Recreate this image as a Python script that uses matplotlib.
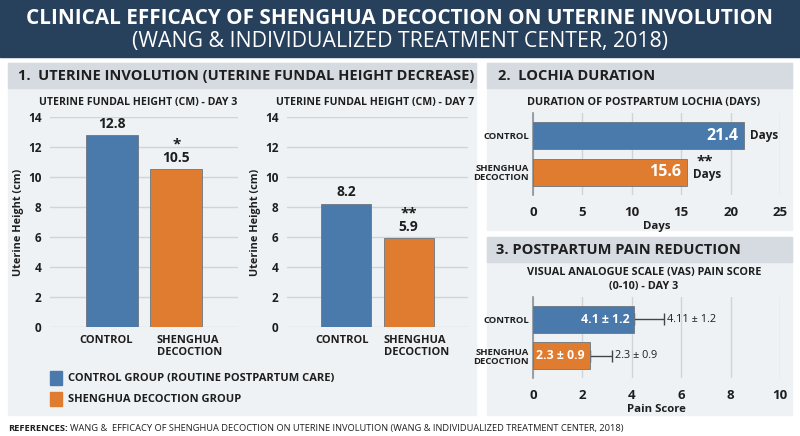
import matplotlib
matplotlib.use("Agg")
import matplotlib.pyplot as plt
from matplotlib.patches import Rectangle

# Data
groups = ['CONTROL', 'SHENGHUA\nDECOCTION']
day3_height = [12.8, 10.5]
day7_height = [8.2, 5.9]
day3_marks = ['', '*']
day7_marks = ['', '**']
lochia_days = [21.4, 15.6]
lochia_marks = ['', '**']
pain_score = [4.1, 2.3]
pain_sd = [1.2, 0.9]
pain_side_labels = ['4.11 ± 1.2', '2.3 ± 0.9']
legend_labels = ['CONTROL GROUP (ROUTINE POSTPARTUM CARE)', 'SHENGHUA DECOCTION GROUP']

BLUE = '#4a7aab'
ORANGE = '#e07c30'
NAVY = '#27405c'
PANEL = '#eff2f5'
HEADER = '#d5dbe0'
GRID = '#d0d4d9'
TXT = '#1e1e1e'
colors = [BLUE, ORANGE]

plt.rcParams['font.family'] = ['Open Sans', 'DejaVu Sans']

W, H = 800, 436
fig = plt.figure(figsize=(W / 100, H / 100), dpi=100)
fig.patch.set_facecolor('white')


def box(x0, y0, x1, y1, color):
    #rectangle in pixel coords (top-left origin), kept behind the axes
    fig.patches.append(Rectangle((x0 / W, 1 - y1 / H), (x1 - x0) / W, (y1 - y0) / H,
                                 transform=fig.transFigure, color=color, zorder=-5))


def ftext(x, y, s, **kw):
    fig.text(x / W, 1 - y / H, s, **kw)


def px_axes(x0, y0, x1, y1):
    ax = fig.add_axes([x0 / W, 1 - y1 / H, (x1 - x0) / W, (y1 - y0) / H])
    ax.set_facecolor('none')
    return ax


# Title banner
box(0, 0, W, 57, NAVY)
ftext(400, 18, 'CLINICAL EFFICACY OF SHENGHUA DECOCTION ON UTERINE INVOLUTION',
      ha='center', va='center', color='white', fontsize=14.9, fontweight='bold')
ftext(400, 41, '(WANG & INDIVIDUALIZED TREATMENT CENTER, 2018)',
      ha='center', va='center', color='white', fontsize=15.3)

# Panels
box(8, 63, 476, 415, PANEL)
box(8, 63, 476, 88, HEADER)
ftext(18, 76, '1.  UTERINE INVOLUTION (UTERINE FUNDAL HEIGHT DECREASE)',
      ha='left', va='center', color=TXT, fontsize=10.5, fontweight='bold')

box(487, 63, 792, 230, PANEL)
box(487, 63, 792, 88, HEADER)
ftext(498, 76, '2.  LOCHIA DURATION', ha='left', va='center', color=TXT,
      fontsize=10.5, fontweight='bold')

box(487, 237, 792, 415, PANEL)
box(487, 237, 792, 262, HEADER)
ftext(496, 250, '3. POSTPARTUM PAIN REDUCTION', ha='left', va='center', color=TXT,
      fontsize=10.5, fontweight='bold')


def vbar_chart(x0, x1, values, marks, title, tick_pos, title_x):
    ax = px_axes(x0, 117, x1, 327)
    xs = range(len(values))
    ax.bar(xs, values, width=0.8, color=colors, edgecolor='#6b7680', linewidth=0.6, zorder=3)
    ax.set_xlim(-0.95, 1.95)
    ax.set_ylim(0, 14)
    ax.set_yticks(range(0, 15, 2))
    ax.grid(axis='y', color=GRID, linewidth=1, zorder=0)
    for s in ax.spines.values():
        s.set_visible(False)
    ax.tick_params(length=0, labelsize=8.5, colors=TXT, pad=6)
    for lab in ax.get_yticklabels():
        lab.set_fontweight('bold')
    # labels sit left-aligned under the bars, as in the reference
    ax.set_xticks(tick_pos)
    ax.set_xticklabels(groups, fontsize=8, fontweight='bold', ha='left', va='top',
                       linespacing=1.1, multialignment='left')
    ax.set_ylabel('Uterine Height (cm)', fontsize=7.8, fontweight='bold', color=TXT, labelpad=3)
    for i, v in enumerate(values):
        ax.text(i, v + 0.3, f'{v}', ha='center', va='bottom', fontsize=10,
                fontweight='bold', color=TXT)
        if marks[i]:
            ax.text(i, v + 1.2, marks[i], ha='center', va='bottom', fontsize=11,
                    fontweight='bold', color=TXT)
    ftext(title_x, 102, title, ha='center', va='center', fontsize=7.6,
          fontweight='bold', color=TXT)
    return ax


ax1 = vbar_chart(50, 238, day3_height, day3_marks, 'UTERINE FUNDAL HEIGHT (CM) - DAY 3',
                 [-0.49, 0.7], 138)
ax2 = vbar_chart(287, 468, day7_height, day7_marks, 'UTERINE FUNDAL HEIGHT (CM) - DAY 7',
                 [-0.5, 0.6], 375)

# Legend
for i, lab in enumerate(legend_labels):
    yy = 371 + i * 21
    box(50, yy, 62, yy + 14, colors[i])
    ftext(68, yy + 7, lab, ha='left', va='center', fontsize=8, fontweight='bold', color=TXT)


def hbar_chart(y0, y1, values, xmax, step, xlabel):
    ax = px_axes(533, y0, 780, y1)
    ys = range(len(values))
    ax.barh(ys, values, height=0.75, color=colors, edgecolor='#6b7680', linewidth=0.6, zorder=3)
    ax.set_ylim(1.62, -0.62)
    ax.set_xlim(0, xmax)
    ax.set_xticks(range(0, xmax + 1, step))
    ax.grid(axis='x', color=GRID, linewidth=1, zorder=0)
    for k, s in ax.spines.items():
        s.set_visible(k == 'left')
    ax.spines['left'].set_color('#8a9299')
    ax.spines['left'].set_linewidth(1.2)
    ax.tick_params(length=0, colors=TXT)
    ax.tick_params(axis='x', labelsize=9.5, pad=8)
    ax.tick_params(axis='y', pad=3)
    ax.set_yticks(list(ys))
    ax.set_yticklabels(groups, fontsize=6.8, fontweight='bold', linespacing=1.0)
    for lab in ax.get_xticklabels():
        lab.set_fontweight('bold')
    ax.set_xlabel(xlabel, fontsize=8.2, fontweight='bold', color=TXT, labelpad=1)
    return ax


# Lochia chart
ax3 = hbar_chart(113, 195, lochia_days, 25, 5, 'Days')
ftext(644, 102, 'DURATION OF POSTPARTUM LOCHIA (DAYS)', ha='center', va='center',
      fontsize=7.8, fontweight='bold', color=TXT)
for i, v in enumerate(lochia_days):
    ax3.text(v - 0.6, i, f'{v}', ha='right', va='center', color='white', fontsize=11.5,
             fontweight='bold', zorder=4)
    if lochia_marks[i]:
        ax3.text(v + 0.6, i + 0.05, 'Days', ha='left', va='center', fontsize=8.5,
                 fontweight='bold', color=TXT, zorder=4)
        ax3.text(v + 1.8, i - 0.3, lochia_marks[i], ha='center', va='center', fontsize=11,
                 fontweight='bold', color=TXT, zorder=4)
    else:
        ax3.text(v + 0.6, i, 'Days', ha='left', va='center', fontsize=8.5,
                 fontweight='bold', color=TXT, zorder=4)

# Pain chart
ax4 = hbar_chart(297, 378, pain_score, 10, 2, 'Pain Score')
ftext(644, 273, 'VISUAL ANALOGUE SCALE (VAS) PAIN SCORE', ha='center', va='center',
      fontsize=7.8, fontweight='bold', color=TXT)
ftext(644, 287, '(0-10) - DAY 3', ha='center', va='center',
      fontsize=7.8, fontweight='bold', color=TXT)
for i, v in enumerate(pain_score):
    ax4.errorbar(v, i, xerr=[[0], [pain_sd[i]]], fmt='none', ecolor='#444444',
                 elinewidth=1, capsize=4, capthick=1, zorder=2)
    ax4.text(v - 0.2, i, f'{v} ± {pain_sd[i]}', ha='right', va='center', color='white',
             fontsize=8.8, fontweight='bold', zorder=4)
    ax4.text(v + pain_sd[i] + 0.12, i, pain_side_labels[i], ha='left', va='center',
             fontsize=7.8, color=TXT)

# References footer
ftext(8, 428, 'REFERENCES:', ha='left', va='center', fontsize=6.7, fontweight='bold', color=TXT)
ftext(70, 428, 'WANG &  EFFICACY OF SHENGHUA DECOCTION ON UTERINE INVOLUTION '
      '(WANG & INDIVIDUALIZED TREATMENT CENTER, 2018)',
      ha='left', va='center', fontsize=6.7, color=TXT)

fig.savefig('out.png', dpi=100, facecolor=fig.get_facecolor())
